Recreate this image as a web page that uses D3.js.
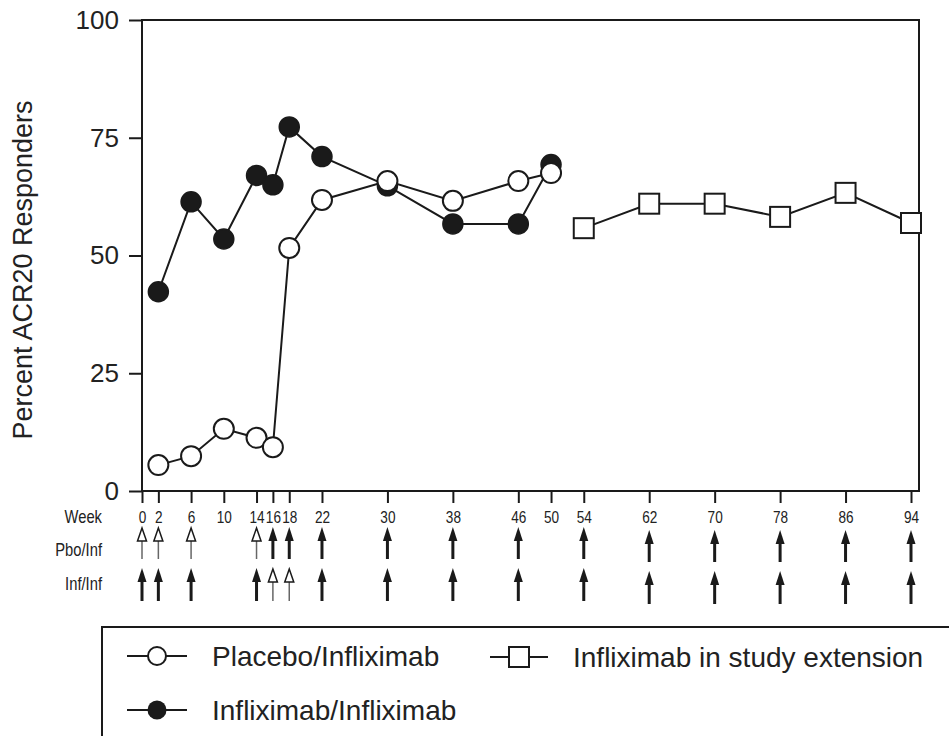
<!DOCTYPE html>
<html><head><meta charset="utf-8">
<script src="https://cdn.jsdelivr.net/npm/d3@7"></script>
<style>
html,body{margin:0;padding:0;background:#fff;}
svg{display:block;}
text{font-family:"Liberation Sans",Arial,Helvetica,sans-serif;fill:#222;}
</style></head>
<body>
<svg id="chart" width="949" height="736"></svg>
<script>
// ---- data ----
const weeks = [2, 6, 10, 14, 16, 18, 22, 30, 38, 46, 50];
const placeboInf = [5.5, 7.4, 13.2, 11.3, 9.3, 51.6, 61.8, 65.8, 61.6, 65.8, 67.5];
const inflixInf = [42.3, 61.4, 53.5, 67.0, 65.0, 77.3, 71.0, 64.8, 56.7, 56.7, 69.3];
const extWeeks = [54, 62, 70, 78, 86, 94];
const extension = [55.8, 61.0, 61.0, 58.2, 63.3, 56.9];
const yTicks = [0, 25, 50, 75, 100];
const weekTicks = [0, 2, 6, 10, 14, 16, 18, 22, 30, 38, 46, 50, 54, 62, 70, 78, 86, 94];
const arrowWeeks = [0, 2, 6, 14, 16, 18, 22, 30, 38, 46, 54, 62, 70, 78, 86, 94];
const pboInfTypes = ["open","open","open","open","filled","filled","filled","filled","filled","filled","filled","filled","filled","filled","filled","filled"];
const infInfTypes = ["filled","filled","filled","filled","open","open","filled","filled","filled","filled","filled","filled","filled","filled","filled","filled"];
const rowLabels = ["Week", "Pbo/Inf", "Inf/Inf"];
const legendItems = ["Placebo/Infliximab", "Infliximab in study extension", "Infliximab/Infliximab"];
const yTitle = "Percent ACR20  Responders";

// ---- layout ----
const svg = d3.select("#chart");
const L = 142, R = 919, T = 20, B = 491;
const x = d3.scaleLinear().domain([0, 94]).range([142, 911]);
const y = d3.scaleLinear().domain([0, 100]).range([B, T]);
const ink = "#1a1a1a";

// frame
svg.append("rect").attr("x", L).attr("y", T).attr("width", R - L).attr("height", B - T)
  .attr("fill", "none").attr("stroke", ink).attr("stroke-width", 2);

// y axis
const ya = svg.append("g").attr("transform", `translate(${L},0)`)
  .call(d3.axisLeft(y).tickValues(yTicks).tickSize(13).tickPadding(10).tickFormat(d3.format("d")));
ya.select(".domain").remove();
ya.selectAll(".tick line").attr("stroke", ink).attr("stroke-width", 2);
ya.selectAll(".tick text").style("font-size", "26px").attr("fill", "#222");

// x axis (condensed labels)
const xa = svg.append("g").attr("transform", `translate(0,${B})`)
  .call(d3.axisBottom(x).tickValues(weekTicks).tickSize(12).tickPadding(8).tickFormat(d3.format("d")));
xa.select(".domain").remove();
xa.selectAll(".tick line").attr("stroke", ink).attr("stroke-width", 2);
xa.selectAll(".tick text").style("font-size", "17px").attr("fill", "#222")
  .attr("transform", "scale(0.8,1)");

// y title
svg.append("text").attr("transform", "translate(32,270) rotate(-90)")
  .attr("text-anchor", "middle").style("font-size", "27px").attr("fill", "#2a2a2a").text(yTitle);

// row labels
const rowY = [517, 550, 584];
rowLabels.forEach((t, i) => {
  svg.append("text").attr("transform", `translate(102,${rowY[i]}) scale(0.82,1)`).attr("dy", "0.35em")
    .attr("text-anchor", "end").style("font-size", "18px").text(t);
});

// arrows
function arrow(g, cx, top, bottom, type) {
  const hw = 4.5, hl = 14;
  if (type === "filled") {
    g.append("line").attr("x1", cx).attr("x2", cx).attr("y1", top + hl - 2).attr("y2", bottom)
      .attr("stroke", ink).attr("stroke-width", 3);
    g.append("path").attr("d", `M${cx},${top} L${cx + hw},${top + hl} L${cx - hw},${top + hl} Z`)
      .attr("fill", ink);
  } else {
    g.append("line").attr("x1", cx).attr("x2", cx).attr("y1", top + hl).attr("y2", bottom)
      .attr("stroke", "#666").attr("stroke-width", 1.5);
    g.append("path").attr("d", `M${cx},${top + 1} L${cx + hw},${top + hl} L${cx - hw},${top + hl} Z`)
      .attr("fill", "#fff").attr("stroke", ink).attr("stroke-width", 1.5);
  }
}
const ag = svg.append("g");
arrowWeeks.forEach((w, i) => {
  const off = w >= 62 ? 3 : 0;
  arrow(ag, x(w), 527 + off, 559 + off, pboInfTypes[i]);
  arrow(ag, x(w), 568 + off, 601 + off, infInfTypes[i]);
});

// series lines
const line = d3.line().x(d => x(d[0])).y(d => y(d[1]));
const infData = weeks.map((w, i) => [w, inflixInf[i]]);
const pboData = weeks.map((w, i) => [w, placeboInf[i]]);
const extData = extWeeks.map((w, i) => [w, extension[i]]);

svg.append("path").datum(infData).attr("d", line).attr("fill", "none").attr("stroke", ink).attr("stroke-width", 2);
svg.append("path").datum(pboData).attr("d", line).attr("fill", "none").attr("stroke", ink).attr("stroke-width", 2);
svg.append("path").datum(extData).attr("d", line).attr("fill", "none").attr("stroke", ink).attr("stroke-width", 2);

svg.append("g").selectAll("circle").data(infData).join("circle")
  .attr("cx", d => x(d[0])).attr("cy", d => y(d[1])).attr("r", 10)
  .attr("fill", ink).attr("stroke", ink).attr("stroke-width", 1.5);
svg.append("g").selectAll("circle").data(pboData).join("circle")
  .attr("cx", d => x(d[0])).attr("cy", d => y(d[1])).attr("r", 10)
  .attr("fill", "#fff").attr("stroke", ink).attr("stroke-width", 2);
svg.append("g").selectAll("rect").data(extData).join("rect")
  .attr("x", d => x(d[0]) - 10).attr("y", d => y(d[1]) - 10).attr("width", 20).attr("height", 20)
  .attr("fill", "#fff").attr("stroke", ink).attr("stroke-width", 2);

// legend
const lg = svg.append("g");
lg.append("path").attr("d", "M102,760 L102,627 L960,627").attr("fill", "none")
  .attr("stroke", ink).attr("stroke-width", 2);
lg.append("line").attr("x1", 127).attr("x2", 187).attr("y1", 656).attr("y2", 656).attr("stroke", ink).attr("stroke-width", 2);
lg.append("circle").attr("cx", 157).attr("cy", 656).attr("r", 9).attr("fill", "#fff").attr("stroke", ink).attr("stroke-width", 2);
lg.append("text").attr("x", 212).attr("y", 656).attr("dy", "0.36em").style("font-size", "28px").attr("fill", "#2a2a2a").text(legendItems[0]);
lg.append("line").attr("x1", 490).attr("x2", 548).attr("y1", 657).attr("y2", 657).attr("stroke", ink).attr("stroke-width", 2);
lg.append("rect").attr("x", 509).attr("y", 647).attr("width", 20).attr("height", 20).attr("fill", "#fff").attr("stroke", ink).attr("stroke-width", 2);
lg.append("text").attr("x", 573).attr("y", 657).attr("dy", "0.36em").style("font-size", "28px").attr("fill", "#2a2a2a").text(legendItems[1]);
lg.append("line").attr("x1", 127).attr("x2", 187).attr("y1", 710).attr("y2", 710).attr("stroke", ink).attr("stroke-width", 2);
lg.append("circle").attr("cx", 157).attr("cy", 710).attr("r", 9.5).attr("fill", ink);
lg.append("text").attr("x", 212).attr("y", 710).attr("dy", "0.36em").style("font-size", "28px").attr("fill", "#2a2a2a").text(legendItems[2]);
</script>
</body></html>
